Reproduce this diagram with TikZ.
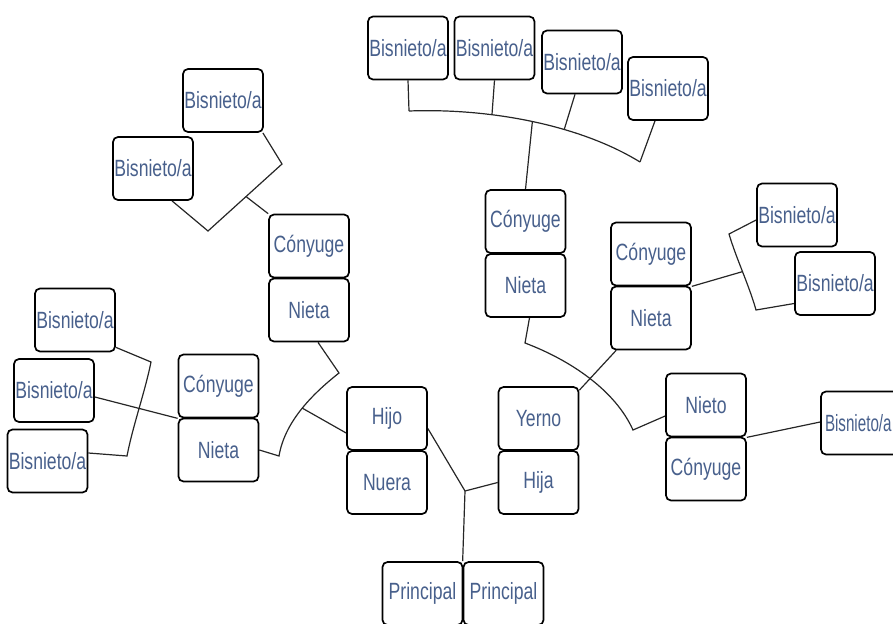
\documentclass[tikz,border=0pt]{standalone}
\usepackage{fontspec}
\setmainfont[FakeStretch=0.75]{Liberation Sans}
\usetikzlibrary{calc,backgrounds}
\definecolor{txt}{RGB}{72,96,140}
\begin{document}
\begin{tikzpicture}[x=1pt,y=-1pt,
  bx/.style={draw=black, line width=1.7pt, rounded corners=5pt, fill=white, inner sep=0pt,
    minimum width=80pt, minimum height=63pt, font=\fontsize{23.5}{26}\selectfont, text=txt},
  cn/.style={draw=black!85, line width=1.2pt}]
\useasboundingbox (0,0) rectangle (893,623);
% boxes
\node[bx] (t1) at (408,48) {Bisnieto/a};
\node[bx] (t2) at (494.5,48) {Bisnieto/a};
\node[bx] (t3) at (582,62) {Bisnieto/a};
\node[bx] (t4) at (668,88.5) {Bisnieto/a};
\node[bx] (cc) at (525.5,221.5) {Cónyuge};
\node[bx] (cn) at (525.5,285.5) {Nieta};
\node[bx] (rc) at (651,254) {Cónyuge};
\node[bx] (rn) at (651,318) {Nieta};
\node[bx] (rb1) at (797,215) {Bisnieto/a};
\node[bx] (rb2) at (835,283.5) {Bisnieto/a};
\node[bx] (nt) at (706,405) {Nieto};
\node[bx] (nc) at (706,469) {Cónyuge};
\node[bx, text width=72pt, align=left] (fr) at (861,423) {\scalebox{0.86}[1]{Bisnieto/a}};
\node[bx] (ye) at (538.5,418.5) {Yerno};
\node[bx] (hi) at (538.5,482.5) {Hija};
\node[bx] (p1) at (422.5,593.5) {Principal};
\node[bx] (p2) at (503.5,593.5) {Principal};
\node[bx] (hj) at (387,418.5) {Hijo};
\node[bx] (nu) at (387,482.5) {Nuera};
\node[bx] (lc) at (218.5,386) {Cónyuge};
\node[bx] (ln) at (218.5,450) {Nieta};
\node[bx] (uc) at (309,246) {Cónyuge};
\node[bx] (un) at (309,310) {Nieta};
\node[bx] (ub1) at (223,100.5) {Bisnieto/a};
\node[bx] (ub2) at (153,168.5) {Bisnieto/a};
\node[bx] (lb1) at (75,320) {Bisnieto/a};
\node[bx] (lb2) at (54,390.5) {Bisnieto/a};
\node[bx] (lb3) at (47.5,461) {Bisnieto/a};
% connectors
\begin{pgfonlayer}{background}
\coordinate (a0) at (409,111);
\coordinate (a1) at (640,162);
\draw[cn] (a0) .. controls (490,108) and (580,125) .. (a1)
  coordinate[pos=0.335] (a2) coordinate[pos=0.5] (a3) coordinate[pos=0.635] (a4);
\draw[cn] (t1.south) -- (a0);
\draw[cn] (t2.south) -- (a2);
\draw[cn] ([xshift=-7pt]t3.south) -- (a4);
\draw[cn] ([xshift=-13pt]t4.south) -- (a1);
\draw[cn] (a3) -- (cc.north);
% centre right
\coordinate (b0) at (525,343);
\coordinate (b1) at (633,430);
\draw[cn] ([xshift=4pt]cn.south) -- (b0) .. controls (570,360) and (615,390) .. (b1) -- ([yshift=-11pt]nt.west);
\draw[cn] ([yshift=-4pt]ye.north east) -- ([xshift=6pt]rn.south west);
% right bracket
\coordinate (c1) at (729,234);
\coordinate (c2) at (756,310);
\draw[cn] ([yshift=-5pt]rb1.west) -- (c1) .. controls (736,258) and (749,285) .. (c2)
  coordinate[pos=0.5] (c0) -- ([yshift=-20pt]rb2.west);
\draw[cn] (rc.south east) -- (c0);
% bottom right
\draw[cn] (nt.south east) -- ([yshift=1pt]fr.west);
% principal
\coordinate (m0) at (465,491);
\draw[cn] (p2.north west) -- (m0) -- (hi.west);
\draw[cn] (m0) -- ([yshift=-10pt]hj.east);
% left
\coordinate (d0) at (339,373);
\coordinate (d1) at (279,456);
\draw[cn] ([xshift=9pt]un.south) -- (d0) .. controls (315,392) and (285,420) .. (d1)
  coordinate[pos=0.5] (d2) -- (ln.east);
\draw[cn] (d2) -- ([yshift=-14.5pt]hj.west);
% far left
\coordinate (e0) at (151,362);
\coordinate (e1) at (127,456);
\draw[cn] ([yshift=5pt]lb1.south east) -- (e0) .. controls (145,392) and (133,425) .. (e1) -- ([yshift=8pt]lb3.east);
\draw[cn] ([yshift=-6.5pt]lb2.east) -- (lc.south west);
% upper left
\coordinate (f0) at (282,164);
\coordinate (f1) at (208,231);
\draw[cn] ([xshift=-1pt]ub1.south east) -- (f0) -- (f1) -- ([xshift=19pt]ub2.south);
\draw[cn] ($(f0)!0.486!(f1)$) -- (uc.north west);
\end{pgfonlayer}
\end{tikzpicture}
\end{document}
